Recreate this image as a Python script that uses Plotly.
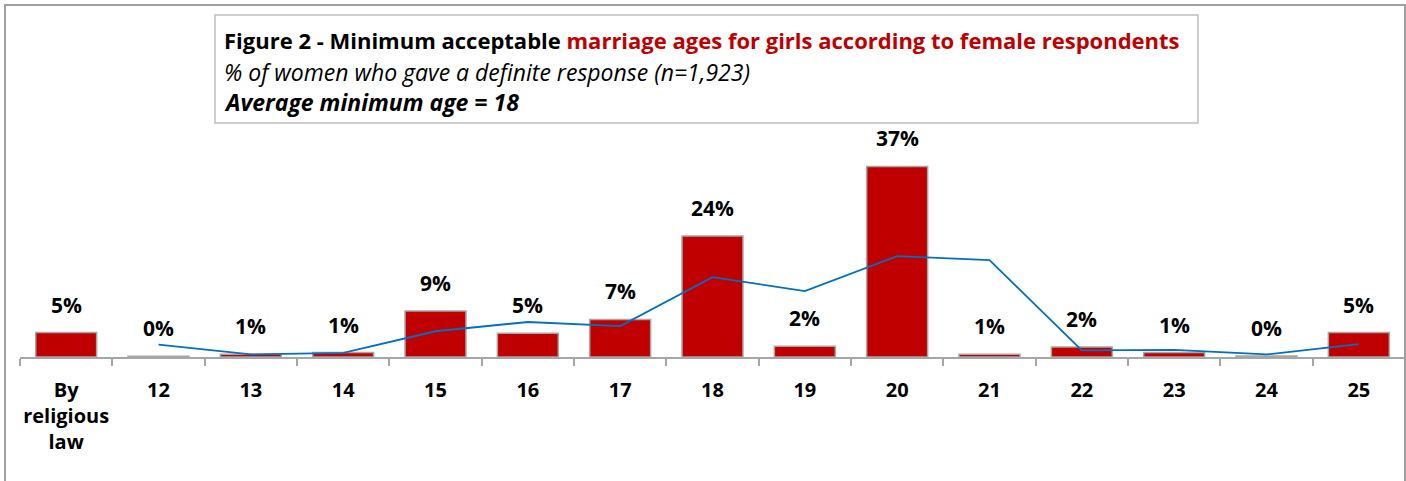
import plotly.graph_objects as go

# Survey categories and shares (%)
categories = ["By<br>religious<br>law", "12", "13", "14", "15", "16", "17", "18",
              "19", "20", "21", "22", "23", "24", "25"]
share_pct = [4.75, 0.15, 0.55, 0.85, 8.95, 4.6, 7.3, 23.5, 2.1, 37.0, 0.55, 1.95, 0.85, 0.2, 4.75]
# Secondary (trend) series, ages 12 to 25
line_categories = categories[1:]
line_pct = [2.4, 0.5, 0.8, 5.0, 6.8, 6.0, 15.5, 12.8, 19.6, 18.8, 1.3, 1.4, 0.5, 2.5]

W, H = 1406, 481
ML, MR, MT, MB = 20, 1, 151, 124
PW, PH = W - ML - MR, H - MT - MB
FONT = "Open Sans"


def px_x(x):
    return (x - ML) / PW


def px_y(y):
    return (H - MB - y) / PH


fig = go.Figure()
fig.add_trace(go.Bar(
    x=categories, y=share_pct, width=0.66,
    marker=dict(color="#C00000", line=dict(color="#A6A6A6", width=1.5)),
    hoverinfo="skip", showlegend=False,
))
fig.add_trace(go.Scatter(
    x=line_categories, y=line_pct, mode="lines",
    line=dict(color="#0070C0", width=1.8),
    hoverinfo="skip", showlegend=False,
))

# Value labels above each bar (category positions given by index)
for i, v in enumerate(share_pct):
    fig.add_annotation(x=i, y=v, xref="x", yref="y", text=f"<b>{v:.0f}%</b>",
                       showarrow=False, yanchor="bottom", yshift=12,
                       font=dict(family=FONT, size=21, color="#000000"))

# Title box
fig.add_shape(type="rect", xref="paper", yref="paper",
              x0=px_x(215), x1=px_x(1198), y0=px_y(123), y1=px_y(15),
              line=dict(color="#BFBFBF", width=1.5), fillcolor="white", layer="above")
title_lines = [
    ("<b>Figure 2 - Minimum acceptable <span style='color:#C00000'>marriage ages for girls "
     "according to female respondents</span></b>", 40, 22),
    ("<i>% of women who gave a definite response (n=1,923)</i>", 72, 23),
    ("<b><i>Average minimum age = 18</i></b>", 102, 23),
]
for txt, yc, fs in title_lines:
    fig.add_annotation(x=px_x(222), y=px_y(yc), xref="paper", yref="paper", text=txt,
                       showarrow=False, xanchor="left", yanchor="middle",
                       font=dict(family=FONT, size=fs, color="#000000"))

# Outer frame
fig.add_shape(type="rect", xref="paper", yref="paper",
              x0=px_x(5), x1=px_x(1405), y0=px_y(500), y1=px_y(5),
              line=dict(color="#A0A0A0", width=2), layer="above")

fig.update_layout(
    width=W, height=H,
    margin=dict(l=ML, r=MR, t=MT, b=MB),
    plot_bgcolor="white", paper_bgcolor="white",
    xaxis=dict(
        type="category", showgrid=False, zeroline=False,
        showline=True, linecolor="#A6A6A6", linewidth=1.5,
        ticks="outside", tickson="boundaries", ticklen=7, tickcolor="#A6A6A6", tickwidth=1.5,
        tickfont=dict(family=FONT, size=20, color="#000000"),
        ticklabelstandoff=14, tickangle=0,
        tickvals=categories, ticktext=[f"<b>{c}</b>" for c in categories],
    ),
    yaxis=dict(range=[0, 40], visible=False, showgrid=False, zeroline=False),
)

fig.write_html("out.html")
